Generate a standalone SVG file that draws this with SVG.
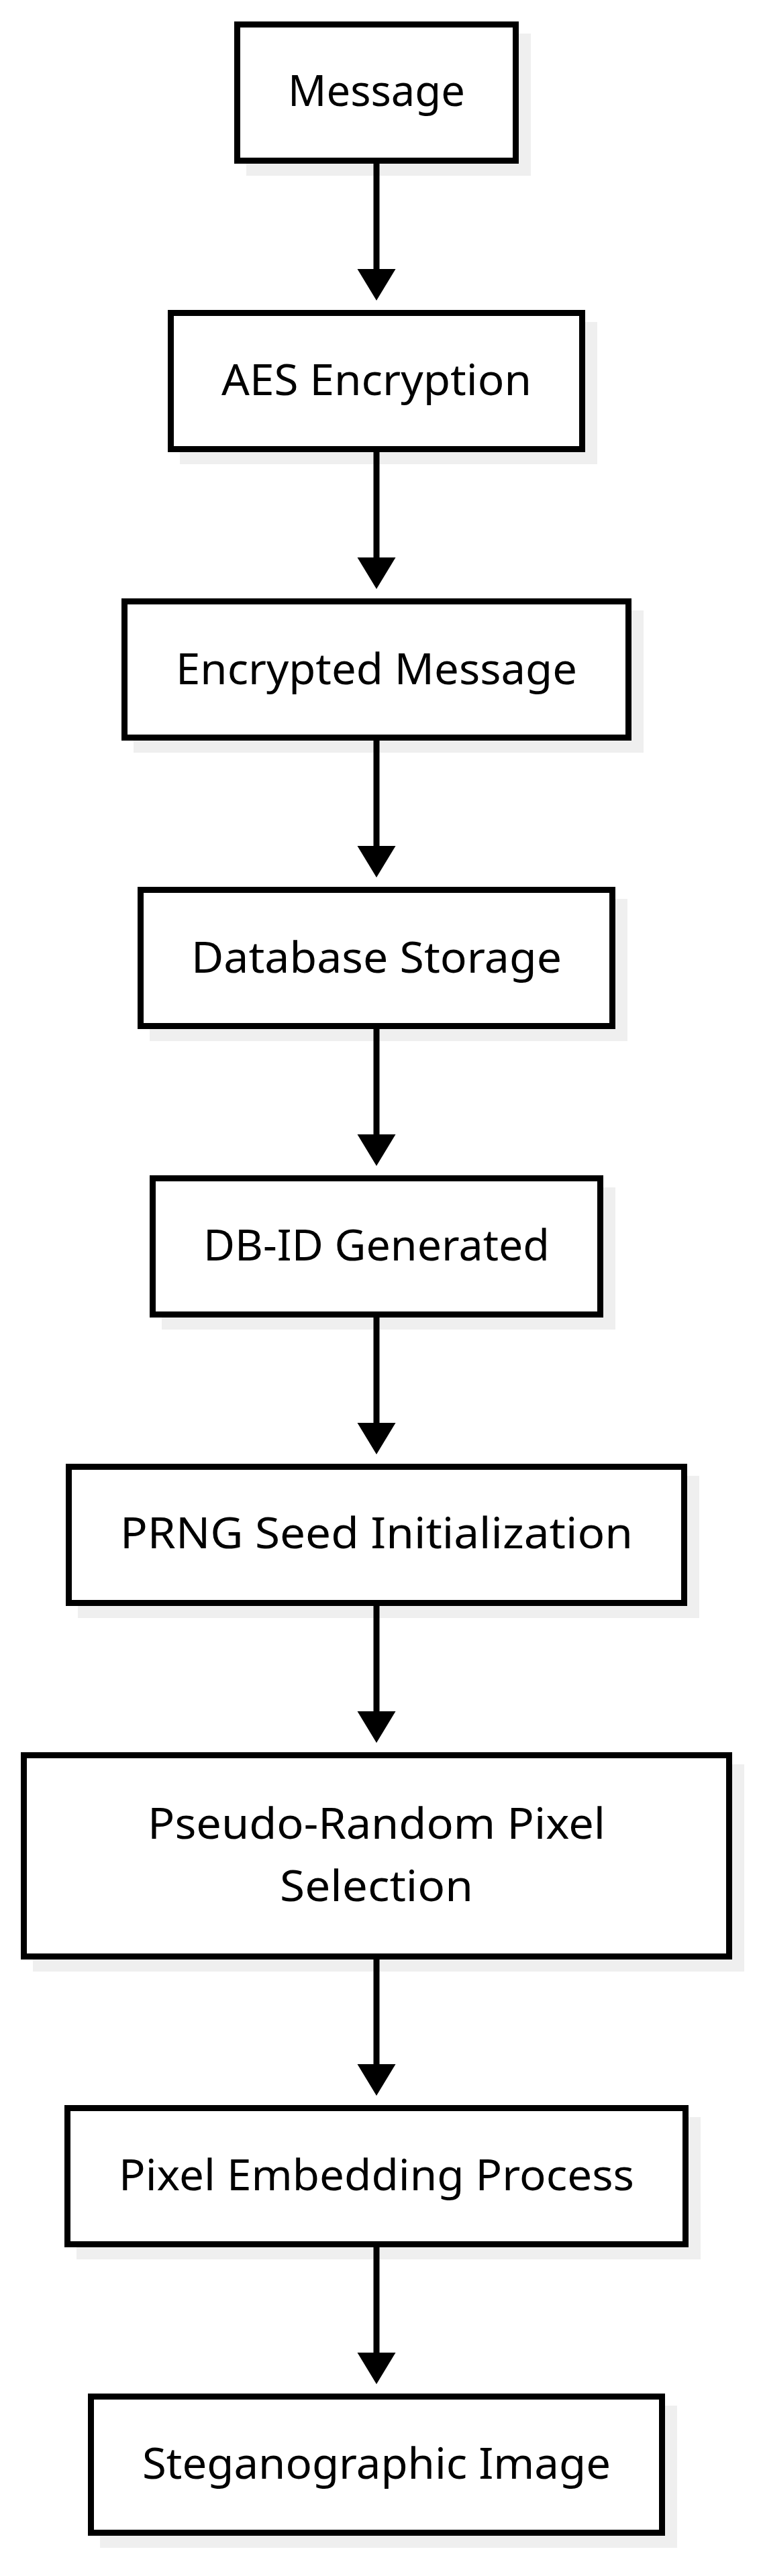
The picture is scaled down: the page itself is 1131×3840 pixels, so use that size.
<svg xmlns="http://www.w3.org/2000/svg" width="1131" height="3840" viewBox="0 0 1131 3840">
<style>
.bg{fill:#ffffff}
.shadow{fill:#efefef;stroke:none}
.box{fill:#ffffff;stroke:#000000;stroke-width:9}
.lbl{font-family:"Noto Sans","Open Sans","DejaVu Sans",sans-serif;font-size:64px;fill:#000000;text-anchor:middle}
.edge{stroke:#000000;stroke-width:9;fill:none}
.head{fill:#000000;stroke:none}
</style>
<rect class="bg" x="0" y="0" width="1131" height="3840"/>
<g id="shadows">
<rect class="shadow" x="367" y="50" width="424" height="212"/>
<rect class="shadow" x="268" y="480" width="622" height="212"/>
<rect class="shadow" x="199" y="910" width="760" height="212"/>
<rect class="shadow" x="223" y="1340" width="712" height="212"/>
<rect class="shadow" x="241" y="1770" width="676" height="212"/>
<rect class="shadow" x="116" y="2200" width="926" height="212"/>
<rect class="shadow" x="49" y="2630" width="1060" height="309"/>
<rect class="shadow" x="114" y="3156" width="930" height="212"/>
<rect class="shadow" x="149" y="3586" width="860" height="212"/>
</g>
<g id="connectors">
<line class="edge" x1="561" y1="244" x2="561" y2="402"/>
<polygon class="head" points="532.5,401 589.5,401 561,448"/>
<line class="edge" x1="561" y1="674" x2="561" y2="832"/>
<polygon class="head" points="532.5,831 589.5,831 561,878"/>
<line class="edge" x1="561" y1="1104" x2="561" y2="1262"/>
<polygon class="head" points="532.5,1261 589.5,1261 561,1308"/>
<line class="edge" x1="561" y1="1534" x2="561" y2="1692"/>
<polygon class="head" points="532.5,1691 589.5,1691 561,1738"/>
<line class="edge" x1="561" y1="1964" x2="561" y2="2122"/>
<polygon class="head" points="532.5,2121 589.5,2121 561,2168"/>
<line class="edge" x1="561" y1="2394" x2="561" y2="2552"/>
<polygon class="head" points="532.5,2551 589.5,2551 561,2598"/>
<line class="edge" x1="561" y1="2921" x2="561" y2="3078"/>
<polygon class="head" points="532.5,3077 589.5,3077 561,3124"/>
<line class="edge" x1="561" y1="3350" x2="561" y2="3508"/>
<polygon class="head" points="532.5,3507 589.5,3507 561,3554"/>
</g>
<g id="node-message">
<rect class="box" x="353.5" y="36.5" width="415" height="203"/>
<text class="lbl" x="561" y="158" textLength="264" lengthAdjust="spacingAndGlyphs">Message</text>
</g>
<g id="node-aes">
<rect class="box" x="254.5" y="466.5" width="613" height="203"/>
<text class="lbl" x="561" y="589" textLength="462" lengthAdjust="spacingAndGlyphs">AES Encryption</text>
</g>
<g id="node-encrypted">
<rect class="box" x="185.5" y="896.5" width="751" height="203"/>
<text class="lbl" x="561" y="1020" textLength="598" lengthAdjust="spacingAndGlyphs">Encrypted Message</text>
</g>
<g id="node-database">
<rect class="box" x="209.5" y="1326.5" width="703" height="203"/>
<text class="lbl" x="561" y="1450" textLength="552" lengthAdjust="spacingAndGlyphs">Database Storage</text>
</g>
<g id="node-dbid">
<rect class="box" x="227.5" y="1756.5" width="667" height="203"/>
<text class="lbl" x="561" y="1879" textLength="516" lengthAdjust="spacingAndGlyphs">DB-ID Generated</text>
</g>
<g id="node-prng">
<rect class="box" x="102.5" y="2186.5" width="917" height="203"/>
<text class="lbl" x="561" y="2308" textLength="764" lengthAdjust="spacingAndGlyphs">PRNG Seed Initialization</text>
</g>
<g id="node-pseudo">
<rect class="box" x="35.5" y="2616.5" width="1051" height="300"/>
<text class="lbl" x="561" y="2741" textLength="682" lengthAdjust="spacingAndGlyphs">Pseudo-Random Pixel</text>
<text class="lbl" x="561" y="2834" textLength="288" lengthAdjust="spacingAndGlyphs">Selection</text>
</g>
<g id="node-embedding">
<rect class="box" x="100.5" y="3142.5" width="921" height="203"/>
<text class="lbl" x="561" y="3265" textLength="768" lengthAdjust="spacingAndGlyphs">Pixel Embedding Process</text>
</g>
<g id="node-stego">
<rect class="box" x="135.5" y="3572.5" width="851" height="203"/>
<text class="lbl" x="561" y="3695" textLength="698" lengthAdjust="spacingAndGlyphs">Steganographic Image</text>
</g>
</svg>
